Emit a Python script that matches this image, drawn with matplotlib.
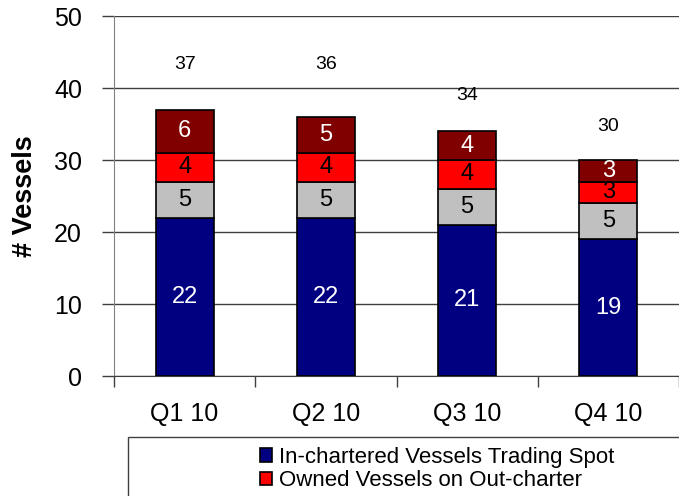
import numpy as np
import matplotlib.pyplot as plt
from matplotlib.patches import Rectangle

# data
quarters = ["Q1 10", "Q2 10", "Q3 10", "Q4 10"]
in_chartered = [22, 22, 21, 19]
grey_part = [5, 5, 5, 5]
owned_out = [4, 4, 4, 3]
dark_part = [6, 5, 4, 3]
totals = [37, 36, 34, 30]
total_label_y = [43.3, 43.3, 39.0, 34.6]

fig = plt.figure(figsize=(6.79, 4.96), dpi=100)
plt.rcParams['font.family'] = ['Liberation Sans', 'DejaVu Sans']

W, H = 679, 496
ax = fig.add_axes([114 / W, (496 - 376) / H, 1 - 114 / W, 360 / H])

x = np.arange(len(quarters))
width = 0.41
series = [
    (in_chartered, "#000080", "white"),
    (grey_part, "#C0C0C0", "black"),
    (owned_out, "#FF0000", "black"),
    (dark_part, "#800000", "white"),
]
bottom = np.zeros(len(quarters))
bars = []
for vals, col, tcol in series:
    vals = np.array(vals, dtype=float)
    b = ax.bar(x, vals, width, bottom=bottom, color=col, edgecolor="black",
               linewidth=1.2, zorder=3)
    bars.append(b)
    for xi, v, b0 in zip(x, vals, bottom):
        ax.text(xi, b0 + v / 2, "%d" % v, ha="center", va="center",
                color=tcol, fontsize=17, zorder=4)
    bottom = bottom + vals

for xi, t, ty in zip(x, totals, total_label_y):
    ax.text(xi, ty, str(t), ha="center", va="center", fontsize=14)

ax.set_ylim(0, 50)
ax.set_xlim(-0.5, 3.43)
ax.set_yticks(range(0, 51, 10))
ax.yaxis.grid(True, color="#404040", linewidth=1.0, zorder=0)
ax.tick_params(axis="y", length=9, width=1.0, color="#404040", pad=14,
               labelsize=18)
ax.set_xticks(x)
ax.set_xticklabels(quarters, fontsize=18)
ax.tick_params(axis="x", length=0, pad=19)
ax.set_xticks([-0.5, 0.5, 1.5, 2.5, 3.5], minor=True)
ax.tick_params(axis="x", which="minor", length=8, width=1.0, color="#404040")

for s in ["top", "right"]:
    ax.spines[s].set_visible(False)
ax.spines["left"].set_color("#808080")
ax.spines["bottom"].set_color("#404040")

ax.set_ylabel("# Vessels", fontsize=19.5, fontweight="bold")
ax.yaxis.set_label_coords(-0.135, 0.5)

# legend box, cut by the picture edge
fig.patches.append(Rectangle((128 / W, -0.1), 1.0, (496 - 437) / H + 0.1,
                             transform=fig.transFigure, facecolor="white",
                             edgecolor="#404040", linewidth=1.0))
handles = [bars[0][0], bars[2][0]]
labels = ["In-chartered Vessels Trading Spot", "Owned Vessels on Out-charter"]
fig.legend(handles, labels, loc="upper left",
           bbox_to_anchor=(251 / W, (496 - 438) / H), frameon=False,
           fontsize=16, handlelength=0.55, handleheight=0.55,
           handletextpad=0.3, labelspacing=0.1, borderaxespad=0)

fig.savefig("out.png", dpi=100)
